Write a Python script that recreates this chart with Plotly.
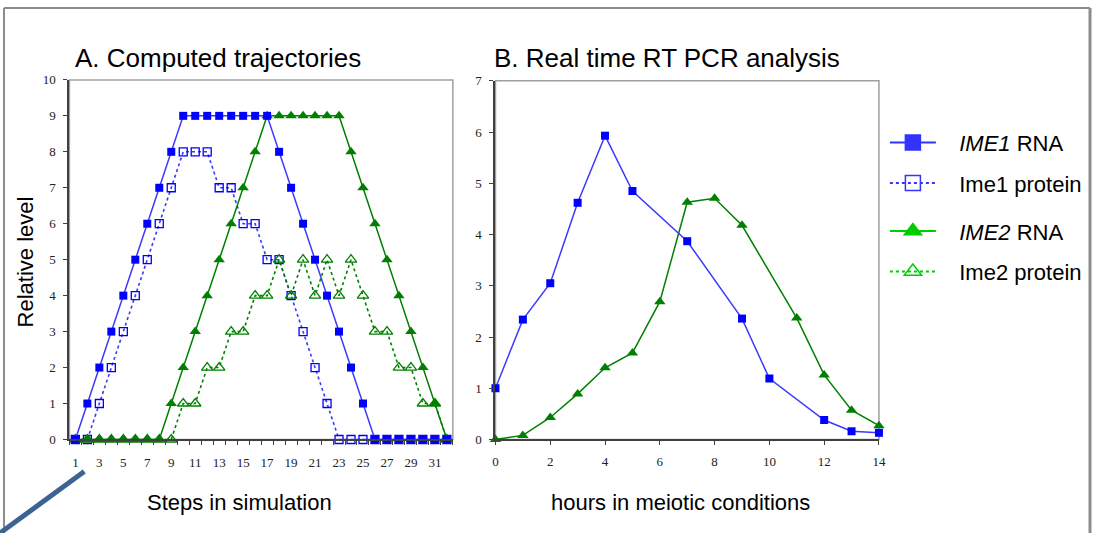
import plotly.graph_objects as go

# ---- Panel A: computed trajectories (steps 1..32) ----
steps = list(range(1, 33))
ime1_rna_sim = [0, 1, 2, 3, 4, 5, 6, 7, 8, 9, 9, 9, 9, 9, 9, 9, 9, 8, 7, 6, 5, 4, 3, 2, 1, 0, 0, 0, 0, 0, 0, 0]
ime1_prot_sim = [0, 0, 1, 2, 3, 4, 5, 6, 7, 8, 8, 8, 7, 7, 6, 6, 5, 5, 4, 3, 2, 1, 0, 0, 0, 0, 0, 0, 0, 0, 0, 0]
ime2_rna_sim = [0, 0, 0, 0, 0, 0, 0, 0, 1, 2, 3, 4, 5, 6, 7, 8, 9, 9, 9, 9, 9, 9, 9, 8, 7, 6, 5, 4, 3, 2, 1, 0]
ime2_prot_sim = [0, 0, 0, 0, 0, 0, 0, 0, 0, 1, 1, 2, 2, 3, 3, 4, 4, 5, 4, 5, 4, 5, 4, 5, 4, 3, 3, 2, 2, 1, 1, 0]
step_ticks = list(range(1, 32, 2))

# ---- Panel B: real time RT PCR (hours) ----
hours_ime1 = [0, 1, 2, 3, 4, 5, 7, 9, 10, 12, 13, 14]
ime1_rna_pcr = [1.0, 2.34, 3.05, 4.62, 5.93, 4.85, 3.87, 2.36, 1.19, 0.38, 0.16, 0.13]
hours_ime2 = [0, 1, 2, 3, 4, 5, 6, 7, 8, 9, 11, 12, 13, 14]
ime2_rna_pcr = [0.0, 0.08, 0.43, 0.89, 1.40, 1.69, 2.69, 4.63, 4.71, 4.18, 2.37, 1.26, 0.57, 0.27]

# The page body keeps its default 8px margin, so the figure is sized to fit
# inside it and layout positions below are given in window pixels.
BODY = 8
W, H = 1114 - 2 * BODY, 549 - 2 * BODY
BLUE_MK = "#0000ff"
BLUE_LN = "#3a3aff"
GREEN = "#008000"
LEG_BLUE = "#3333ff"
LEG_GREEN = "#00cc00"
SANS = "Liberation Sans, Arial, sans-serif"
SERIF = "Liberation Serif, Times New Roman, serif"


def px(x):
    return (x - BODY) / W


def py(y):
    return 1 - (y - BODY) / H


fig = go.Figure()

# Panel A traces
fig.add_trace(go.Scatter(x=steps, y=ime1_prot_sim, mode="lines+markers", xaxis="x", yaxis="y",
                         line=dict(color=BLUE_LN, width=1.6, dash="dot"),
                         marker=dict(symbol="square-open", size=8, color=BLUE_MK, line=dict(width=1.3)),
                         cliponaxis=False, showlegend=False))
fig.add_trace(go.Scatter(x=steps, y=ime2_prot_sim, mode="lines+markers", xaxis="x", yaxis="y",
                         line=dict(color=GREEN, width=1.6, dash="dot"),
                         marker=dict(symbol="triangle-up-open", size=10, color=GREEN, line=dict(width=1.3)),
                         cliponaxis=False, showlegend=False))
fig.add_trace(go.Scatter(x=steps, y=ime2_rna_sim, mode="lines+markers", xaxis="x", yaxis="y",
                         line=dict(color=GREEN, width=1.5),
                         marker=dict(symbol="triangle-up", size=10, color=GREEN),
                         cliponaxis=False, showlegend=False))
fig.add_trace(go.Scatter(x=steps, y=ime1_rna_sim, mode="lines+markers", xaxis="x", yaxis="y",
                         line=dict(color=BLUE_LN, width=1.5),
                         marker=dict(symbol="square", size=8, color=BLUE_MK),
                         cliponaxis=False, showlegend=False))

# Panel B traces
fig.add_trace(go.Scatter(x=hours_ime2, y=ime2_rna_pcr, mode="lines+markers", xaxis="x2", yaxis="y2",
                         line=dict(color=GREEN, width=1.5),
                         marker=dict(symbol="triangle-up", size=10, color=GREEN),
                         cliponaxis=False, showlegend=False))
fig.add_trace(go.Scatter(x=hours_ime1, y=ime1_rna_pcr, mode="lines+markers", xaxis="x2", yaxis="y2",
                         line=dict(color=BLUE_LN, width=1.5),
                         marker=dict(symbol="square", size=8, color=BLUE_MK),
                         cliponaxis=False, showlegend=False))

# Legend entries
PAD = "&nbsp;&nbsp;&nbsp;"
legend_items = [
    (PAD + "<i>IME1</i> RNA", LEG_BLUE, "solid", "square", "legend"),
    (PAD + "Ime1 protein", LEG_BLUE, "dot", "square-open", "legend"),
    (PAD + "<i>IME2</i> RNA", LEG_GREEN, "solid", "triangle-up", "legend2"),
    (PAD + "Ime2 protein", LEG_GREEN, "dot", "triangle-up-open", "legend2"),
]
for i, (name, col, dash, sym, leg) in enumerate(legend_items):
    fig.add_trace(go.Scatter(x=[None], y=[None], mode="lines+markers", name=name, xaxis="x2", yaxis="y2",
                             line=dict(color=col, width=2, dash=dash),
                             marker=dict(symbol=sym, size=15, color=col, line=dict(width=1.5, color=col)),
                             legend=leg, legendgroup=f"g{i}"))

axis_line = "#404040"
tickfont = dict(family=SERIF, size=13, color="#222")

legend_style = dict(xanchor="left", yanchor="top", bgcolor="rgba(0,0,0,0)",
                    font=dict(family=SANS, size=22, color="black"), tracegroupgap=9,
                    itemsizing="trace", itemwidth=46)

fig.update_layout(
    width=W, height=H, margin=dict(l=0, r=0, t=0, b=0),
    paper_bgcolor="white", plot_bgcolor="white",
    showlegend=True,
    xaxis=dict(domain=[px(75), px(462)], range=[0.5, 32.5], tickvals=step_ticks, ticks="",
               showline=True, linecolor=axis_line, linewidth=2, showgrid=False, zeroline=False,
               tickfont=tickfont, ticklabelstandoff=10,
               minor=dict(tick0=0.5, dtick=1, ticks="outside", ticklen=4, tickcolor=axis_line, showgrid=False),
               anchor="y"),
    yaxis=dict(domain=[py(453), py(83)], range=[0, 10], dtick=1, ticks="outside", ticklen=4,
               tickcolor=axis_line, showline=True, linecolor=axis_line, linewidth=2, showgrid=False,
               zeroline=False, tickfont=tickfont, ticklabelstandoff=5, anchor="x"),
    xaxis2=dict(domain=[px(505), px(892)], range=[0, 14], dtick=2, ticks="outside", ticklen=4,
                tickcolor=axis_line, showline=True, linecolor=axis_line, linewidth=2, showgrid=False,
                zeroline=False, tickfont=tickfont, ticklabelstandoff=5, anchor="y2"),
    yaxis2=dict(domain=[py(453), py(84)], range=[0, 7], dtick=1, ticks="outside", ticklen=4,
                tickcolor=axis_line, showline=True, linecolor=axis_line, linewidth=2, showgrid=False,
                zeroline=False, tickfont=tickfont, ticklabelstandoff=5, anchor="x2"),
    legend=dict(x=px(898), y=py(126), **legend_style),
    legend2=dict(x=px(898), y=py(217), **legend_style),
)

# Light grey upper/right borders of each plot area
for xr, yr in (("x domain", "y domain"), ("x2 domain", "y2 domain")):
    fig.add_shape(type="rect", xref=xr, yref=yr, x0=0, x1=1, y0=0, y1=1,
                  line=dict(color="#a0a0a0", width=1.5), layer="below")

# Slide frame and corner stroke
frame = "#8c8c8c"
fig.add_shape(type="line", xref="paper", yref="paper", x0=px(9), x1=px(1105), y0=py(9), y1=py(9),
              line=dict(color=frame, width=2))
fig.add_shape(type="line", xref="paper", yref="paper", x0=px(9), x1=px(9), y0=py(9), y1=py(560),
              line=dict(color=frame, width=2))
fig.add_shape(type="line", xref="paper", yref="paper", x0=px(1105), x1=px(1105), y0=py(9), y1=py(560),
              line=dict(color=frame, width=3))
fig.add_shape(type="line", xref="paper", yref="paper", x0=px(4), x1=px(90), y0=py(550), y1=py(486),
              line=dict(color="#3d6393", width=5))

# Titles and axis labels
ann = dict(xref="paper", yref="paper", showarrow=False, font=dict(family=SANS, size=26, color="black"))
fig.add_annotation(text="A. Computed trajectories", x=px(79), y=py(60), xanchor="left", yanchor="middle", **ann)
fig.add_annotation(text="B. Real time RT PCR analysis", x=px(501), y=py(60), xanchor="left", yanchor="middle", **ann)
lab = dict(xref="paper", yref="paper", showarrow=False, font=dict(family=SANS, size=22, color="black"))
fig.add_annotation(text="Relative level", x=px(31), y=py(270), textangle=-90, xanchor="center", yanchor="middle", **lab)
fig.add_annotation(text="Steps in simulation", x=px(247), y=py(518), xanchor="center", yanchor="middle", **lab)
fig.add_annotation(text="hours in meiotic conditions", x=px(692), y=py(518), xanchor="center", yanchor="middle", **lab)

fig.write_html("out.html")
